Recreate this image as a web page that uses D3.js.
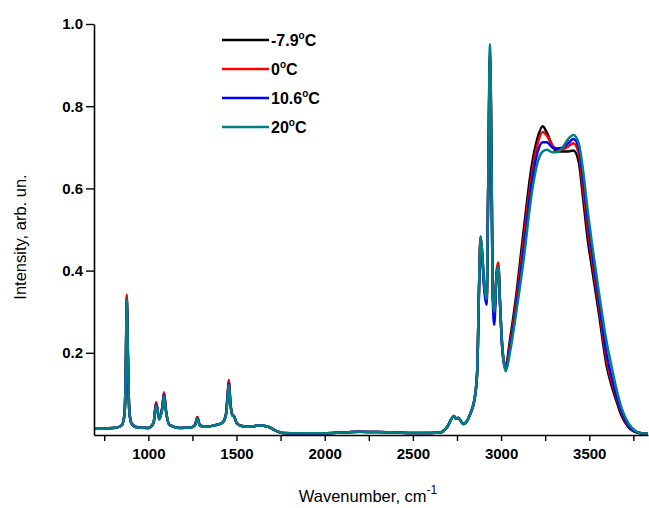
<!DOCTYPE html>
<html lang="en">

<head>
    <meta charset="UTF-8">
    <script src="https://d3js.org/d3.v7.min.js"></script>
    <title>Spectra</title>
    <style>
        body { margin: 0; background: #fff; }
        text { font-family: "Liberation Sans", Arial, sans-serif; fill: #000; }
    </style>
</head>

<body>

    <svg width="649" height="508"></svg>

    <script>
        // wavenumber grid, cm-1
        const wavenumbers = [
            700, 760, 820, 850, 865, 872, 878, 884, 892, 905,
            940, 1000, 1030, 1044, 1062, 1080, 1089, 1100, 1120, 1180,
            1240, 1265, 1278, 1292, 1320, 1380, 1420, 1440, 1450, 1457,
            1465, 1478, 1486, 1500, 1530, 1580, 1630, 1680, 1725, 1760,
            1850, 2000, 2100, 2200, 2300, 2400, 2500, 2600, 2654, 2692,
            2733, 2745, 2757, 2786, 2824, 2852, 2865, 2875, 2884, 2893,
            2905, 2918, 2927, 2937, 2947, 2952, 2961, 2975, 2984, 2994,
            3003, 3012, 3026, 3050, 3083, 3126, 3173, 3205, 3236, 3260,
            3290, 3315, 3350, 3380, 3410, 3440, 3466, 3490, 3514, 3557,
            3599, 3630, 3651, 3684, 3720, 3769, 3800, 3830
        ];

        // intensities
        const tMinus79 = [
            .015, .016, .018, .024, .05, .15, .335, .2, .06, .028,
            .018, .017, .03, .078, .04, .07, .102, .06, .025, .017,
            .018, .025, .043, .024, .02, .024, .03, .05, .1, .133,
            .08, .048, .046, .03, .022, .02, .024, .02, .01, .005,
            .004, .004, .006, .008, .007, .006, .005, .005, .006, .018,
            .046, .04, .042, .027, .05, .095, .16, .36, .483, .443,
            .362, .33, .6, .91, .6, .36, .3, .394, .414, .321,
            .24, .19, .167, .23, .33, .49, .653, .72, .751, .735,
            .705, .69, .69, .69, .692, .665, .572, .48, .41, .289,
            .167, .115, .087, .046, .02, .006, .004, .003
        ];
        const t0 = [
            .015, .016, .018, .024, .052, .155, .341, .205, .06, .028,
            .018, .017, .03, .08, .04, .07, .104, .06, .025, .017,
            .018, .025, .044, .024, .02, .024, .03, .05, .1, .133,
            .08, .048, .046, .03, .022, .02, .024, .02, .01, .005,
            .004, .004, .006, .008, .007, .006, .005, .005, .006, .018,
            .046, .04, .042, .027, .05, .095, .16, .36, .48, .44,
            .36, .325, .6, .92, .6, .36, .295, .4, .42, .325,
            .24, .19, .165, .22, .315, .47, .63, .705, .737, .728,
            .705, .696, .695, .702, .71, .685, .595, .505, .43, .305,
            .18, .125, .095, .052, .023, .007, .004, .003
        ];
        const t106 = [
            .015, .016, .018, .024, .05, .15, .325, .195, .058, .027,
            .018, .017, .03, .075, .038, .068, .098, .058, .024, .017,
            .018, .024, .041, .023, .02, .024, .03, .049, .096, .126,
            .078, .047, .045, .03, .022, .02, .024, .02, .01, .005,
            .004, .004, .006, .008, .007, .006, .005, .005, .006, .018,
            .045, .04, .041, .027, .05, .093, .155, .35, .47, .43,
            .35, .317, .6, .93, .6, .35, .268, .39, .41, .32,
            .235, .185, .16, .21, .3, .445, .61, .685, .712, .712,
            .7, .697, .7, .71, .72, .7, .62, .53, .45, .32,
            .195, .135, .1, .056, .025, .007, .004, .003
        ];
        const t20 = [
            .015, .016, .018, .024, .05, .15, .33, .2, .06, .028,
            .018, .017, .03, .072, .038, .066, .095, .057, .024, .017,
            .018, .024, .04, .023, .02, .024, .03, .048, .094, .122,
            .077, .047, .045, .03, .022, .02, .024, .02, .01, .005,
            .004, .004, .006, .008, .007, .006, .005, .005, .006, .018,
            .046, .04, .042, .027, .05, .095, .16, .36, .483, .443,
            .362, .33, .61, .951, .61, .36, .3, .39, .41, .32,
            .24, .19, .155, .2, .29, .42, .585, .66, .69, .694,
            .688, .688, .7, .72, .73, .71, .64, .55, .47, .34,
            .225, .16, .118, .065, .03, .008, .004, .003
        ];

        const seriesNames = ['-7.9', '0', '10.6', '20'];
        const seriesValues = [tMinus79, t0, t106, t20];
        const seriesColors = ['#000000', '#ff0000', '#0000ff', '#008080'];

        const xTickValues = d3.range(750, 3751, 250);
        const xTickLabels = [1000, 1500, 2000, 2500, 3000, 3500];
        const yTickValues = [0.2, 0.4, 0.6, 0.8, 1.0];

        const svg = d3.select('svg');
        const plotLeft = 94, plotRight = 648, plotTop = 24, plotBottom = 435;

        const x = d3.scaleLinear().domain([692, 3833]).range([plotLeft, plotRight]);
        const y = d3.scaleLinear().domain([0, 1]).range([plotBottom, plotTop]);

        svg.append('defs').append('clipPath').attr('id', 'plot')
            .append('rect')
            .attr('x', plotLeft).attr('y', plotTop - 5)
            .attr('width', plotRight - plotLeft).attr('height', plotBottom - plotTop + 5);

        const line = d3.line()
            .x((d, i) => x(wavenumbers[i]))
            .y(d => y(d))
            .curve(d3.curveMonotoneX);

        svg.append('g')
            .attr('clip-path', 'url(#plot)')
            .selectAll('path')
            .data(seriesValues)
            .enter()
            .append('path')
            .attr('d', d => line(d))
            .attr('fill', 'none')
            .attr('stroke', (d, i) => seriesColors[i])
            .attr('stroke-width', 2.5)
            .attr('stroke-linejoin', 'round');

        // axes
        const gx = svg.append('g')
            .attr('transform', `translate(0,${plotBottom})`)
            .call(d3.axisBottom(x)
                .tickValues(xTickValues)
                .tickSize(6)
                .tickSizeOuter(0)
                .tickFormat(d => xTickLabels.includes(d) ? d : ''));

        const gy = svg.append('g')
            .attr('transform', `translate(${plotLeft},0)`)
            .call(d3.axisLeft(y)
                .tickValues(yTickValues)
                .tickSize(8)
                .tickSizeOuter(0)
                .tickFormat(d3.format('.1f')));

        [gx, gy].forEach(g => {
            g.select('.domain').attr('stroke-width', 1.6);
            g.selectAll('.tick line').attr('stroke-width', 1.4);
            g.selectAll('.tick text')
                .style('font-family', '"Liberation Sans", Arial, sans-serif')
                .style('font-size', '15px')
                .style('font-weight', 'bold');
        });
        gx.selectAll('.tick text').attr('dy', '1.0em');
        gy.selectAll('.tick text').attr('x', -11);

        // axis titles
        const xt = svg.append('text')
            .attr('x', 368).attr('y', 502)
            .attr('text-anchor', 'middle')
            .style('font-size', '16.5px');
        xt.append('tspan').text('Wavenumber, cm');
        xt.append('tspan').attr('dy', -8).style('font-size', '12px').text('-1');

        svg.append('text')
            .attr('transform', 'translate(26,237) rotate(-90)')
            .attr('text-anchor', 'middle')
            .style('font-size', '16.5px')
            .text('Intensity, arb. un.');

        // legend
        const legend = svg.append('g');
        seriesNames.forEach((name, i) => {
            const ly = 40 + i * 29;
            legend.append('line')
                .attr('x1', 222).attr('x2', 269)
                .attr('y1', ly).attr('y2', ly)
                .attr('stroke', seriesColors[i])
                .attr('stroke-width', 2.5);
            const t = legend.append('text')
                .attr('x', 271).attr('y', ly + 6)
                .style('font-size', '16px')
                .style('font-weight', 'bold');
            t.append('tspan').text(name);
            t.append('tspan').attr('dy', -7).style('font-size', '10px').text('o');
            t.append('tspan').attr('dy', 7).text('C');
        });
    </script>

</body>

</html>
